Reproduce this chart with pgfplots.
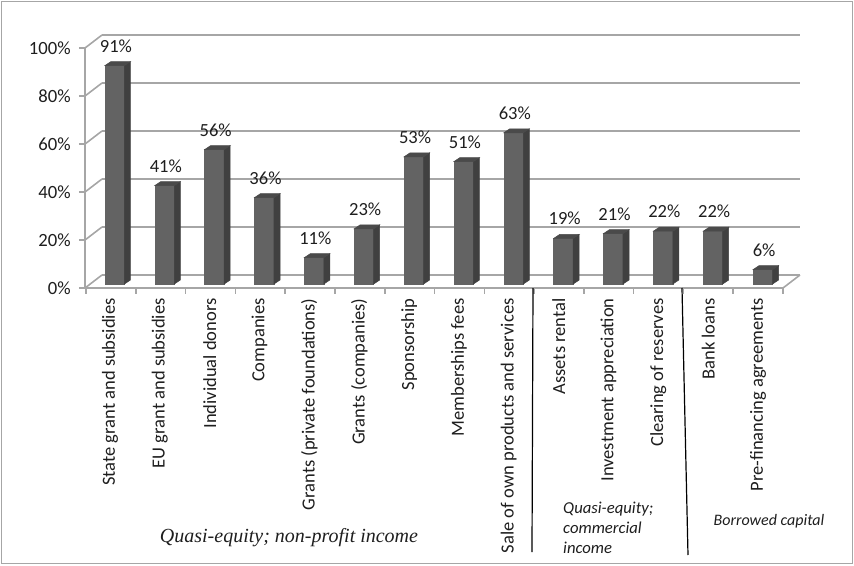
\documentclass[border=0pt]{standalone}
\usepackage{pgfplots}
\pgfplotsset{compat=1.18}
\usepackage{fontspec}
\setmainfont{Carlito}
\newfontfamily\grpserif{Liberation Serif}
\definecolor{barfront}{HTML}{636363}
\definecolor{barside}{HTML}{404040}
\definecolor{bartop}{HTML}{4A4A4A}
\definecolor{gridc}{HTML}{A6A6A6}
\definecolor{txt}{HTML}{1E1E1E}
\pgfplotstableread{
x v
0.5 91
1.5 41
2.5 56
3.5 36
4.5 11
5.5 23
6.5 53
7.5 51
8.5 63
9.5 19
10.5 21
11.5 22
12.5 22
13.5 6
}\datatable
\begin{document}
\begin{tikzpicture}[x=0.75pt,y=0.75pt]
\begin{axis}[
  scale only axis, width=523.5pt, height=180pt,
  xmin=0, xmax=14, ymin=0, ymax=100,
  clip=false,
  axis line style={draw=none},
  tick style={draw=none},
  ymajorgrids, grid style={gridc, line width=1.2pt},
  ytick={0,20,40,60,80,100},
  yticklabels={0\%,20\%,40\%,60\%,80\%,100\%},
  yticklabel style={font=\fontsize{14}{16}\selectfont, text=txt, xshift=-20pt, yshift=-9.75pt},
  xtick={0.5,1.5,...,13.5},
  xticklabels={State grant and subsidies, EU grant and subsidies, Individual donors, Companies, Grants (private foundations), Grants (companies), Sponsorship, Memberships fees, Sale of own products and services, Assets rental, Investment appreciation, Clearing of reserves, Bank loans, Pre-financing agreements},
  xticklabel style={xshift=-12.75pt, yshift=-14pt, rotate=90, anchor=east, font=\fontsize{13.9}{16}\selectfont, text=txt},
]
\addplot[scatter, only marks, mark=text, text mark={},
  visualization depends on={\thisrow{v}\as\val},
  scatter/@pre marker code/.code={%
    \pgfmathsetmacro\yb{-6.75-1.8*\val}%
    \pgfmathsetmacro\ybb{-3.75-1.8*\val}%
    \pgfmathtruncatemacro\lab{round(\val)}%
    \fill[barfront] (-16.5pt,\yb pt) rectangle (-1.875pt,-6.75pt);
    \fill[barside] (-1.875pt,-6.75pt) -- (2.625pt,-3.75pt) -- (2.625pt,\ybb pt) -- (-1.875pt,\yb pt) -- cycle;
    \fill[bartop] (-16.5pt,-6.75pt) -- (-1.875pt,-6.75pt) -- (2.625pt,-3.75pt) -- (-12pt,-3.75pt) -- cycle;
    \node[font=\fontsize{13.9}{16}\selectfont, text=txt, inner sep=0pt] at (-8.25pt,8pt) {\lab\%};
  },
  scatter/@post marker code/.code={},
] table[x=x, y=v] {\datatable};
\coordinate (O) at (axis cs:0,0);
\end{axis}
\begin{scope}[shift={(O)}, draw=gridc, line width=1.2pt]
  \foreach \k in {0,20,...,100} {
    \draw (-17,{2.4*\k-13}) -- (0,{2.4*\k});
    \draw (-23,{2.4*\k-13}) -- (-17,{2.4*\k-13});
  }
  \draw (-17,-13) -- (-17,227);
  \draw (-17,-13) -- (681,-13) -- (698,0);
  \foreach \i in {0,...,14} {
    \draw ({-16+49.79*\i},-13) -- ({-16+49.79*\i},-19);
  }
  \draw[black, line width=0.9pt] (431,-13) -- (430,-277);
  \draw[black, line width=0.9pt] (580,-13) -- (586,-280);
  \node[font=\grpserif\itshape\fontsize{15}{17}\selectfont, text=txt] at (187,-263) {Quasi-equity; non-profit income};
  \node[font=\itshape\fontsize{12.5}{15}\selectfont, text=txt, align=left, anchor=west] at (456,-253) {Quasi-equity;\\commercial\\income};
  \node[font=\itshape\fontsize{12}{15}\selectfont, text=txt] at (667,-246) {Borrowed capital};
  \draw[gridc, line width=1.2pt] (-100.5,273.5) rectangle (750.5,-288.5);
  \pgfresetboundingbox
  \useasboundingbox (-102,275) rectangle (752,-290);
\end{scope}
\end{tikzpicture}
\end{document}
